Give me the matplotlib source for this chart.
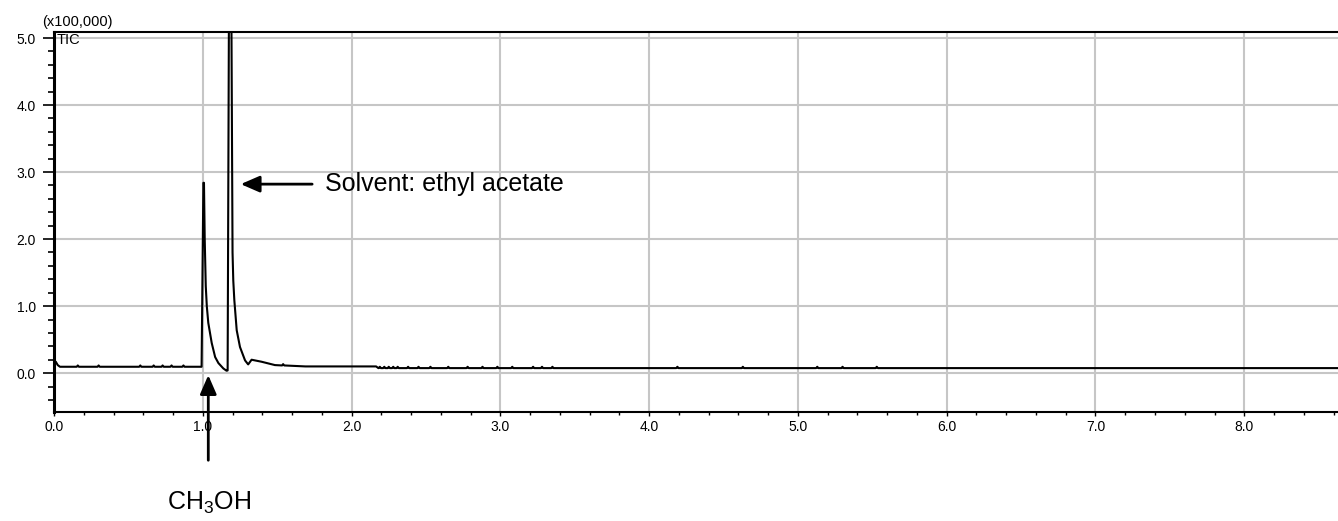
import numpy as np
import matplotlib
matplotlib.use("Agg")
import matplotlib.pyplot as plt
from matplotlib.ticker import MultipleLocator, FixedLocator

plt.rcParams['font.family'] = ['Liberation Sans', 'DejaVu Sans']
plt.rcParams['mathtext.fontset'] = 'custom'
plt.rcParams['mathtext.rm'] = 'Liberation Sans'
plt.rcParams['mathtext.it'] = 'Liberation Sans:italic'

# Retention time (min) and intensity (x100,000) of the TIC trace
times = [0.000, 0.012, 0.025, 0.040, 0.992, 1.004, 1.008, 1.013, 1.020,
         1.027, 1.037, 1.060, 1.083, 1.105, 1.138, 1.160, 1.167, 1.176,
         1.192, 1.200, 1.205, 1.212, 1.228, 1.250, 1.284, 1.305, 1.328,
         1.395, 1.485, 1.690, 2.165, 2.180, 8.630]
intensity = [0.16, 0.17, 0.12, 0.095, 0.095, 2.84, 2.84, 2.00, 1.30,
             1.00, 0.75, 0.45, 0.24, 0.15, 0.07, 0.035, 0.04, 5.50,
             5.50, 1.80, 1.38, 1.09, 0.64, 0.39, 0.19, 0.13, 0.20,
             0.17, 0.12, 0.10, 0.10, 0.075, 0.075]
# small noise blips on the baseline
blip_times = [0.16, 0.30, 0.58, 0.67, 0.73, 0.79, 0.87, 1.54,
              2.19, 2.22, 2.25, 2.28, 2.31, 2.38, 2.45, 2.53, 2.65, 2.78,
              2.88, 2.98, 3.08, 3.22, 3.28, 3.35, 4.19, 4.63, 5.13, 5.30, 5.53]
blip_height = 0.02

x_major = [0, 1, 2, 3, 4, 5, 6, 7, 8]
y_major = [0, 1, 2, 3, 4, 5]

# build trace
t = list(times)
v = list(intensity)
for bt in blip_times:
    base = float(np.interp(bt, times, intensity))
    t += [bt - 0.007, bt, bt + 0.007]
    v += [base, base + blip_height, base]
order = np.argsort(t, kind='stable')
t = np.array(t)[order]
v = np.array(v)[order]

fig = plt.figure(figsize=(13.38, 5.21), dpi=100)
ax = fig.add_axes([54/1338, 1 - 412/521, 1 - 54/1338, (412 - 32)/521])

ax.plot(t, v, color='black', lw=1.5, zorder=3)

ax.set_xlim(0, 8.63)
ax.set_ylim(-0.58, 5.09)

ax.xaxis.set_major_locator(FixedLocator(x_major))
ax.xaxis.set_minor_locator(MultipleLocator(0.2))
ax.yaxis.set_major_locator(FixedLocator(y_major))
ax.yaxis.set_minor_locator(MultipleLocator(0.2))
ax.set_xticklabels([f"{x:.1f}" for x in x_major])
ax.set_yticklabels([f"{y:.1f}" for y in y_major])

ax.grid(True, which='major', color='#c6c6c6', lw=1.5, zorder=0)
ax.set_axisbelow(True)

ax.tick_params(axis='y', which='major', length=8, width=1.2, pad=5, labelsize=10, direction='out')
ax.tick_params(axis='y', which='minor', length=4.5, width=1.2, direction='out')
ax.tick_params(axis='x', which='major', length=3, width=1.0, pad=3, labelsize=10, direction='out')
ax.tick_params(axis='x', which='minor', length=2, width=1.0, direction='out')

ax.spines['right'].set_visible(False)
ax.spines['left'].set_linewidth(2.2)
ax.spines['bottom'].set_linewidth(1.5)
ax.spines['top'].set_linewidth(1.5)

fig.text(42/1338, 1 - 22/521, "(x100,000)", fontsize=10.5, ha='left', va='center')
ax.text(0.015, 5.07, "TIC", fontsize=10.5, ha='left', va='top')

arrow_props = dict(arrowstyle='-|>,head_length=1.15,head_width=0.5',
                   color='black', lw=2.0, shrinkA=0, shrinkB=0)

# solvent annotation
ax.annotate("", xy=(1.255, 2.82), xytext=(1.735, 2.82), arrowprops=arrow_props)
ax.text(1.82, 2.82, "Solvent: ethyl acetate", fontsize=18, ha='left', va='center')

# methanol annotation
ax.annotate("", xy=(1.037, -0.03), xytext=(1.037, -1.30),
            arrowprops=arrow_props, annotation_clip=False)
ax.text(1.04, -1.93, r"CH$_\mathregular{3}$OH", fontsize=18, ha='center', va='center')

fig.savefig("out.png", dpi=100)
